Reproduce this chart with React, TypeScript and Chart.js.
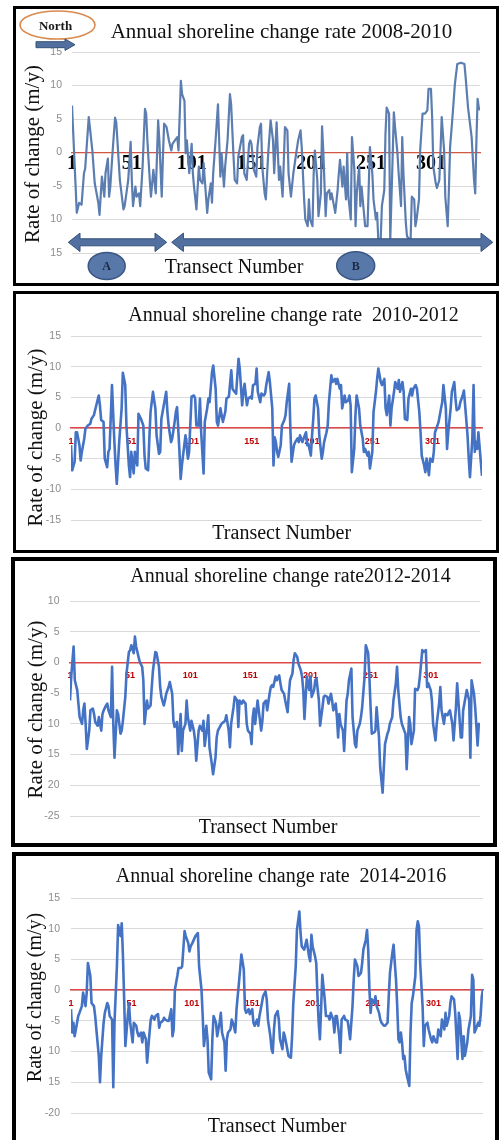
import React, { useEffect, useRef } from "react";
import { Chart, registerables } from "chart.js";

Chart.register(...registerables);

const SERIF = "'Liberation Serif', 'Times New Roman', serif";
const SANS = "'Liberation Sans', Arial, sans-serif";

const TRANSECT_TICKS = [1, 51, 101, 151, 201, 251, 301];
const TRANSECT_MIN = 1;
const TRANSECT_MAX = 342;
const Y_TITLE = "Rate of change (m/y)";
const X_TITLE = "Transect Number";

const TITLE_0810 = "Annual shoreline change rate 2008-2010";
const TITLE_1012 = "Annual shoreline change rate  2010-2012";
const TITLE_1214 = "Annual shoreline change rate2012-2014";
const TITLE_1416 = "Annual shoreline change rate  2014-2016";

// ---- 2008-2010 ----
const transects0810 = [
  1, 5, 7, 9, 11, 12, 15, 18, 20, 23,
  24, 26, 28, 29, 31, 32, 33, 35, 37, 38,
  41, 44, 45, 48, 50, 51, 52, 54, 55, 57,
  58, 60, 62, 63, 64, 66, 67, 69, 71, 73,
  74, 76, 77, 78, 80, 82, 84, 85, 87, 89,
  90, 92, 93, 95, 96, 97, 99, 101, 102, 103,
  105, 107, 108, 110, 111, 112, 114, 115, 117, 118,
  119, 121, 123, 125, 126, 128, 129, 131, 133, 134,
  136, 137, 139, 140, 143, 144, 145, 147, 149, 150,
  151, 153, 155, 156, 158, 159, 160, 162, 163, 165,
  167, 169, 170, 172, 174, 175, 177, 179, 181, 182,
  184, 186, 188, 190, 192, 193, 195, 196, 198, 199,
  200, 202, 203, 204, 206, 207, 209, 210, 211, 213,
  214, 216, 217, 218, 220, 221, 223, 224, 225, 227,
  228, 230, 231, 232, 234, 235, 237, 238, 239, 241,
  242, 243, 245, 246, 248, 249, 250, 252, 253, 255,
  256, 257, 259, 260, 262, 263, 264, 266, 267, 269,
  270, 271, 273, 274, 276, 277, 278, 280, 281, 283,
  284, 285, 287, 288, 289, 291, 292, 294, 296, 298,
  299, 301, 302, 303, 305, 306, 308, 309, 310, 312,
  313, 315, 316, 317, 319, 321, 323, 326, 329, 330,
  332, 334, 335, 337, 338, 339, 340, 341, 342,
];
const rates0810 = [
  7.0, -9.0, -7.5, -7.8, -3.1, -2.4, 5.3, 0.3, -4.6, -7.5,
  -9.3, -3.6, -6.6, -3.1, -0.9, -6.6, -5.1, 0.3, 5.2, 4.5,
  -4.1, -8.5, -8.0, -4.1, 1.6, -4.1, -8.0, -5.1, -6.6, -6.1,
  -8.0, -2.1, 6.5, 5.8, 1.8, -4.1, -6.6, -2.6, -6.1, 4.8,
  1.8, -6.6, -0.6, 4.3, 3.8, 1.8, 0.3, 1.3, 1.8, 2.3,
  0.3, 10.7, 8.7, 7.7, -0.1, 1.8, -3.1, 1.3, -3.1, -5.1,
  -8.5, -2.1, -4.1, -4.6, -1.6, -4.1, -9.0, -7.0, -4.6, -7.5,
  -3.1, 1.8, 7.2, -3.6, -0.1, -5.1, -2.1, 1.8, 8.7, 7.2,
  -0.6, -4.1, -4.6, -0.6, 2.3, 2.6, -3.1, -4.1, 1.3, 1.8,
  1.3, -2.6, -3.6, 0.8, 3.8, 4.3, -2.1, -6.1, -7.0, -0.1,
  4.8, 1.8, -3.1, 4.5, -4.1, -2.1, -6.6, 3.8, 3.3, -3.1,
  -6.6, -3.1, -0.6, 1.8, 3.3, 0.8, -7.0, -10.0, -11.0, -7.0,
  -10.0, -11.0, -3.1, 0.3, -4.1, -9.5, -6.1, 3.9, 0.3, -9.5,
  -6.1, -5.6, -7.0, -6.1, -8.0, -9.0, -5.6, -3.1, -1.1, -5.1,
  -2.1, -7.0, -0.1, -6.6, -10.0, 2.3, -2.6, -11.0, -6.1, -2.1,
  -8.0, -5.1, -9.0, -11.0, -11.0, -5.1, 0.8, -3.1, -7.0, -10.0,
  -9.0, -13.0, -13.0, -8.0, -5.6, 2.8, 6.7, 5.8, -13.0, -0.6,
  6.0, 3.8, -0.1, -3.1, -8.0, 2.3, -3.1, -10.5, -12.5, -13.0,
  -13.0, -6.6, -7.0, -11.0, -10.0, -7.0, 0.3, 5.8, 5.8, 6.3,
  9.5, 9.5, 5.3, -2.1, -4.6, -5.3, -4.1, 0.3, 5.3, 0.3,
  -6.6, -11.0, -5.6, 0.8, 5.3, 10.2, 13.2, 13.4, 13.2, 11.2,
  6.7, 3.8, 2.3, -4.1, -6.1, 1.8, 8.0, 6.7, 6.3,
];

// ---- 2010-2012 ----
const transects1012 = [
  1, 2, 4, 5, 6, 8, 9, 10, 12, 13,
  15, 17, 18, 20, 22, 24, 25, 26, 28, 29,
  31, 32, 33, 35, 37, 38, 39, 41, 43, 44,
  46, 47, 49, 50, 51, 53, 54, 56, 57, 59,
  61, 62, 63, 65, 66, 67, 69, 71, 72, 74,
  75, 76, 78, 80, 81, 82, 84, 85, 87, 88,
  89, 91, 92, 93, 95, 96, 98, 99, 101, 103,
  104, 105, 107, 108, 109, 111, 112, 114, 115, 116,
  118, 119, 121, 122, 123, 125, 126, 127, 129, 130,
  132, 134, 135, 136, 138, 140, 141, 143, 144, 145,
  147, 148, 150, 151, 152, 154, 155, 156, 158, 159,
  161, 162, 163, 165, 166, 168, 169, 170, 171, 172,
  173, 175, 176, 178, 179, 180, 182, 183, 184, 186,
  187, 189, 190, 191, 193, 194, 196, 197, 198, 200,
  201, 202, 203, 204, 206, 207, 209, 210, 211, 213,
  214, 215, 217, 218, 220, 221, 222, 224, 225, 226,
  228, 229, 231, 232, 233, 234, 236, 237, 238, 240,
  241, 243, 244, 245, 247, 248, 249, 251, 252, 254,
  255, 256, 258, 259, 261, 262, 263, 265, 266, 267,
  269, 270, 272, 273, 274, 276, 277, 278, 280, 281,
  283, 284, 285, 287, 288, 290, 291, 292, 294, 295,
  296, 298, 299, 301, 302, 303, 305, 306, 308, 309,
  310, 312, 313, 314, 316, 317, 319, 320, 321, 323,
  324, 326, 327, 328, 330, 331, 332, 334, 335, 336,
  337, 338, 339, 342,
];
const rates1012 = [
  -2.8, -6.9, -5.5, -0.7, -0.7, -2.8, -5.3, -3.9, -1.7, -0.1,
  0.4, 0.7, 1.5, 2.1, 3.7, 5.3, 3.7, 1.3, 1.0, -5.0,
  -6.4, -3.9, -3.4, 7.0, -2.3, -6.1, -9.1, -2.3, 3.2, 9.0,
  7.0, 0.4, -6.1, -8.0, -3.9, -7.4, -3.9, -6.1, 2.3, 1.5,
  0.4, -4.5, -6.6, -6.9, -1.7, 2.6, 5.9, 3.2, -1.2, -4.2,
  -3.9, 1.5, 3.7, 5.9, 2.6, 0.4, -2.3, -1.7, 1.0, 2.6,
  3.4, -3.9, -8.3, -6.1, -2.8, -1.2, -5.0, -3.9, 5.1, 5.3,
  4.8, 0.4, 0.4, 4.8, -0.7, -7.4, 1.0, 3.2, 4.8, 4.2,
  9.1, 10.2, 6.4, 1.0, 0.4, 3.2, 2.1, 1.0, 2.6, 4.8,
  5.1, 9.4, 6.4, 6.1, 5.6, 11.3, 9.7, 3.7, 5.9, 7.2,
  3.7, 4.8, 5.1, 4.8, 7.0, 7.2, 9.7, 5.9, 4.2, 5.6,
  5.3, 5.6, 7.0, 9.1, 7.5, 3.2, -6.1, -1.5, -2.3, -3.9,
  -4.7, -2.8, 0.4, 1.3, 2.1, 4.2, 7.2, -0.1, -5.5, -2.8,
  -2.3, -1.7, -2.3, -1.2, -2.3, -1.7, -0.7, -2.8, -2.6, -4.5,
  -1.2, 1.5, 4.8, 5.3, 3.2, -1.2, -5.0, -3.9, -2.3, -0.7,
  0.4, 4.2, 8.6, 7.5, 8.0, 7.2, 8.0, 6.4, 7.0, 3.2,
  5.3, 4.2, 4.5, 5.3, 3.7, -7.2, -3.4, 2.1, 5.3, 3.2,
  0.4, -1.7, -3.9, -3.4, -4.5, -3.9, -6.6, -3.9, 2.6, 5.9,
  8.0, 9.7, 7.5, 7.0, 8.0, 3.2, 2.1, 5.3, 0.4, 3.2,
  5.9, 7.5, 6.4, 7.8, 5.9, 7.5, 5.9, 1.5, 1.3, 4.8,
  6.4, 5.3, 6.4, 7.0, 6.4, 2.6, -0.7, -4.5, -6.1, -7.2,
  -5.0, -7.7, -5.0, -5.5, -3.9, -0.7, 0.4, 1.0, 3.2, 4.2,
  7.0, 3.2, -3.4, -0.7, 3.2, 5.9, 7.5, 4.8, 2.9, 3.2,
  4.2, 5.3, 6.1, 3.7, -1.2, -5.0, -8.0, -1.7, 7.0, -3.9,
  -2.3, -3.4, -0.7, -7.8,
];

// ---- 2012-2014 ----
const transects1214 = [
  1, 2, 4, 5, 7, 8, 9, 11, 12, 13,
  14, 15, 17, 18, 20, 21, 22, 24, 25, 27,
  28, 29, 31, 32, 33, 35, 36, 37, 38, 40,
  41, 43, 44, 45, 47, 48, 50, 51, 52, 54,
  55, 56, 58, 59, 61, 62, 63, 65, 66, 68,
  69, 70, 72, 73, 75, 76, 77, 79, 80, 81,
  83, 84, 86, 87, 88, 90, 91, 93, 94, 95,
  97, 98, 99, 101, 102, 104, 105, 106, 108, 109,
  111, 112, 113, 115, 116, 117, 119, 120, 122, 123,
  124, 127, 130, 131, 133, 134, 135, 137, 138, 140,
  141, 142, 144, 145, 147, 148, 149, 151, 152, 153,
  154, 155, 157, 158, 160, 161, 162, 164, 165, 167,
  168, 169, 170, 172, 173, 175, 176, 177, 179, 180,
  182, 183, 184, 186, 187, 188, 190, 191, 193, 194,
  195, 196, 197, 198, 200, 201, 202, 204, 205, 206,
  208, 209, 211, 212, 213, 215, 216, 218, 219, 220,
  222, 223, 224, 225, 226, 228, 229, 231, 232, 233,
  235, 236, 238, 239, 240, 242, 243, 244, 246, 247,
  249, 250, 251, 252, 254, 255, 256, 258, 259, 261,
  262, 263, 265, 266, 267, 269, 270, 272, 273, 274,
  276, 277, 279, 280, 281, 283, 284, 285, 287, 288,
  290, 291, 292, 294, 295, 297, 298, 299, 301, 302,
  303, 305, 306, 308, 309, 310, 312, 313, 315, 316,
  317, 319, 320, 322, 323, 324, 326, 327, 328, 330,
  331, 333, 334, 335, 337, 338, 340, 341, 342,
];
const rates1214 = [
  -6.2, -2.3, 2.6, -2.9, -4.5, -6.7, -8.9, -10.0, -7.8, -6.7,
  -10.0, -14.1, -11.1, -7.8, -7.5, -8.4, -9.7, -10.3, -8.9, -11.1,
  -8.4, -7.8, -7.0, -6.7, -7.8, -8.9, -0.7, -10.0, -15.5, -7.8,
  -8.4, -11.6, -11.1, -9.5, -5.6, -1.8, 1.7, 2.0, 2.8, 1.5,
  4.2, 2.6, 0.9, 0.1, -0.7, -2.9, -10.0, -6.2, -7.5, -7.0,
  -4.0, -1.3, 1.7, 1.5, -0.7, -4.0, -5.6, -7.0, -6.2, -5.1,
  -4.0, -3.2, -5.1, -9.5, -10.5, -9.7, -14.9, -8.4, -14.4, -11.1,
  -10.0, -6.2, -8.9, -11.1, -9.5, -11.1, -12.7, -16.0, -11.1, -10.3,
  -11.1, -9.5, -13.6, -10.5, -8.6, -13.8, -16.6, -18.2, -15.5, -12.2,
  -11.1, -10.0, -9.5, -8.6, -11.1, -13.8, -10.0, -7.3, -5.6, -6.2,
  -10.5, -6.2, -6.7, -6.2, -6.7, -10.0, -11.1, -11.6, -13.3, -8.9,
  -7.5, -10.0, -6.2, -7.8, -11.1, -9.5, -6.7, -6.2, -7.8, -5.1,
  -4.0, -3.7, -4.0, -2.3, -2.9, -2.1, -3.4, -4.5, -5.1, -6.2,
  -8.1, -5.1, -2.9, -1.8, 0.4, 1.5, 0.9, -0.2, -1.3, -2.3,
  -4.5, -9.2, -5.6, -2.3, -4.5, -2.3, -5.6, -4.5, -2.9, -2.6,
  -6.2, -10.3, -7.3, -5.6, -5.4, -5.6, -6.7, -5.1, -6.2, -7.8,
  -6.7, -8.9, -12.2, -8.4, -10.0, -11.1, -14.4, -6.2, -5.1, -2.9,
  -1.0, -8.9, -13.3, -13.8, -11.1, -10.0, -8.9, -7.3, -2.3, 2.8,
  1.5, -2.3, -7.3, -11.6, -11.4, -11.1, -7.3, -12.2, -17.1, -21.2,
  -17.1, -13.3, -11.6, -11.1, -10.0, -8.9, -6.2, -3.4, -0.7, -4.5,
  -8.9, -10.0, -11.1, -11.6, -17.4, -8.9, -10.0, -13.3, -11.1, -4.3,
  -4.5, -4.0, -2.3, 2.0, 1.7, 2.0, -4.0, -3.4, -4.5, -6.2,
  -10.0, -12.7, -10.0, -6.7, -4.0, -7.8, -10.0, -8.4, -8.6, -8.1,
  -7.8, -10.0, -12.7, -7.3, -3.4, -6.2, -12.2, -12.2, -7.8, -5.6,
  -4.5, -6.2, -15.5, -2.9, -5.1, -7.3, -13.5, -10.0, -10.2,
];

// ---- 2014-2016 ----
const transects1416 = [
  1, 2, 3, 4, 6, 7, 8, 10, 11, 13,
  14, 15, 17, 18, 20, 21, 22, 24, 25, 26,
  28, 29, 31, 32, 33, 35, 36, 37, 39, 40,
  42, 43, 44, 45, 46, 48, 49, 50, 52, 53,
  55, 56, 57, 59, 60, 61, 63, 64, 66, 67,
  68, 70, 71, 73, 74, 75, 77, 78, 79, 81,
  82, 84, 85, 86, 87, 89, 90, 92, 93, 95,
  96, 98, 99, 100, 102, 104, 106, 107, 109, 110,
  111, 113, 114, 115, 117, 118, 119, 121, 122, 124,
  125, 126, 128, 129, 130, 131, 133, 134, 135, 137,
  138, 140, 141, 142, 144, 145, 146, 148, 149, 151,
  152, 153, 155, 156, 157, 159, 160, 162, 163, 164,
  166, 167, 168, 169, 170, 172, 173, 174, 176, 177,
  178, 180, 181, 183, 184, 185, 187, 188, 190, 191,
  192, 194, 195, 196, 198, 199, 200, 201, 203, 204,
  205, 206, 207, 208, 209, 211, 212, 214, 215, 216,
  218, 219, 220, 221, 223, 224, 225, 227, 228, 230,
  231, 232, 234, 235, 236, 238, 239, 241, 242, 243,
  245, 246, 247, 248, 249, 250, 252, 253, 254, 256,
  257, 258, 260, 261, 263, 264, 265, 267, 268, 269,
  270, 271, 272, 273, 274, 275, 276, 277, 278, 279,
  281, 282, 283, 284, 286, 287, 288, 289, 290, 292,
  293, 294, 296, 297, 299, 300, 301, 303, 304, 305,
  307, 308, 310, 311, 312, 314, 315, 316, 318, 319,
  321, 322, 323, 325, 326, 327, 329, 330, 332, 333,
  334, 335, 336, 338, 339, 340, 341, 342,
];
const rates1416 = [
  -3.1, -6.9, -5.3, -7.5, -5.3, -4.2, -3.7, -2.6, -0.4, -2.6,
  -0.4, 4.4, 2.3, -2.1, -2.6, -4.2, -6.4, -10.7, -15.0, -10.7,
  -5.3, -3.7, -2.1, -2.6, -4.2, -4.8, -15.8, -5.3, 3.9, 10.6,
  8.8, 10.9, 5.5, -1.5, -9.1, -4.2, -2.1, -5.3, -8.5, -5.3,
  -5.8, -6.9, -7.5, -6.9, -8.5, -6.9, -8.0, -11.8, -6.9, -4.8,
  -4.2, -4.8, -4.2, -3.9, -6.1, -5.3, -5.0, -4.5, -4.8, -5.0,
  -5.0, -3.1, -7.5, -6.4, 0.1, 2.3, 3.6, 3.6, 3.9, 9.6,
  8.8, 7.7, 6.3, 7.1, 7.9, 8.8, 9.3, 3.9, 0.1, -4.2,
  -9.1, -5.8, -8.0, -13.4, -14.5, -8.0, -4.2, -5.3, -7.5, -5.3,
  -3.7, -6.9, -8.5, -13.1, -8.0, -6.9, -6.4, -4.8, -5.3, -6.9,
  -3.1, 1.2, 3.4, 5.8, 3.4, -3.1, -3.7, -3.1, -3.9, -3.1,
  -5.3, -5.8, -4.8, -5.8, -4.2, -2.1, -1.0, -0.2, -1.5, -4.8,
  -7.5, -9.6, -10.2, -6.4, -4.2, -3.4, -4.8, -8.0, -9.6, -6.9,
  -7.5, -9.6, -10.7, -11.0, -7.5, -2.1, 3.9, 9.8, 12.8, 9.3,
  7.1, 6.6, 7.4, 8.2, 5.5, 4.7, 9.0, 7.1, 5.5, 4.4,
  -1.0, -5.3, -8.0, -3.1, 2.5, -1.5, -4.2, -4.2, -4.8, -3.7,
  -4.8, -6.9, -4.2, -4.2, -7.5, -10.2, -4.8, -4.2, -4.8, -5.0,
  -6.4, -8.0, -2.6, 1.7, 5.0, 3.9, 2.3, 2.8, 4.4, 6.6,
  8.2, 9.8, 6.6, 0.1, -3.7, -1.5, -2.1, -1.0, -2.6, -3.7,
  -4.8, -5.3, -5.8, -5.8, -5.3, -1.0, 2.8, 6.1, 7.4, 4.4,
  1.7, -2.6, -8.0, -8.5, -6.9, -8.5, -11.2, -10.7, -12.9, -13.9,
  -15.6, -6.9, -2.1, -1.0, 2.3, 9.8, 11.2, 10.4, 4.4, -2.6,
  -9.1, -5.8, -5.3, -6.4, -8.0, -8.5, -7.5, -8.5, -8.5, -6.4,
  -7.5, -4.8, -6.4, -3.7, -5.8, -4.2, -2.1, -1.0, -1.5, -3.7,
  -11.2, -3.7, -4.8, -11.2, -7.5, -10.7, -8.5, -6.4, -4.2, 2.5,
  1.7, -6.9, -6.4, -5.3, -5.8, -4.2, -1.0, 0.1,
];

// ---- y-axis tick labels, as printed in each panel ----
const yTicks0810 = [15, 10, 5, 0, -5, -10, -15];
const yTickLabels0810 = ["15", "10", "5", "0", "-5", "10", "15"];
const yTicks1012 = [15, 10, 5, 0, -5, -10, -15];
const yTickLabels1012 = ["15", "10", "5", "0", "-5", "-10", "-15"];
const yTicks1214 = [10, 5, 0, -5, -10, -15, -20, -25];
const yTickLabels1214 = ["10", "5", "0", "-5", "10", "15", "20", "-25"];
const yTicks1416 = [15, 10, 5, 0, -5, -10, -15, -20];
const yTickLabels1416 = ["15", "10", "5", "0", "-5", "10", "15", "-20"];

const RED_TICK = { color: "#c00000", font: { family: SANS, size: 9, weight: "bold", lineHeight: 1 }, padding: 9, z: 0 };

const PANELS = [
  {
    id: "p0810",
    frame: { left: 13, top: 6, width: 486, height: 280, border: 3 },
    pad: { right: 16, top: 43, bottom: 30 },
    axisWidth: 56, tickPad: 10,
    yMin: -15, yMax: 15, yTicks: yTicks0810, yLabels: yTickLabels0810,
    transects: transects0810, rates: rates0810,
    line: { color: "#5b7db0", width: 2.2 },
    zero: { color: "#d0563f", width: 1.2 },
    xTick: { color: "#000000", font: { family: SERIF, size: 20, weight: "bold", lineHeight: 1 }, padding: 1, z: 1 },
    title: { text: TITLE_0810, x: 265.5, y: 28.5, size: 21 },
    yTitle: { x: 23, y: 145, size: 21 },
    xTitle: { x: 218, y: 264, size: 20 },
    decorated: true,
  },
  {
    id: "p1012",
    frame: { left: 13, top: 291, width: 486, height: 262, border: 3 },
    pad: { right: 14, top: 42, bottom: 30 },
    axisWidth: 55, tickPad: 10,
    yMin: -15, yMax: 15, yTicks: yTicks1012, yLabels: yTickLabels1012,
    transects: transects1012, rates: rates1012,
    line: { color: "#4472c4", width: 2.6 },
    zero: { color: "#e04848", width: 1.5 },
    xTick: RED_TICK,
    title: { text: TITLE_1012, x: 277.5, y: 27, size: 20 },
    yTitle: { x: 26, y: 143.5, size: 21 },
    xTitle: { x: 265.7, y: 245.3, size: 20 },
    decorated: false,
  },
  {
    id: "p1214",
    frame: { left: 11, top: 557, width: 486, height: 290, border: 4 },
    pad: { right: 13, top: 40, bottom: 27 },
    axisWidth: 55, tickPad: 10.5,
    yMin: -25, yMax: 10, yTicks: yTicks1214, yLabels: yTickLabels1214,
    transects: transects1214, rates: rates1214,
    line: { color: "#4472c4", width: 2.6 },
    zero: { color: "#e04848", width: 1.5 },
    xTick: RED_TICK,
    title: { text: TITLE_1214, x: 275.5, y: 21.3, size: 20 },
    yTitle: { x: 27.2, y: 148.5, size: 21 },
    xTitle: { x: 253, y: 272.3, size: 20 },
    decorated: false,
  },
  {
    id: "p1416",
    frame: { left: 12, top: 852, width: 487, height: 298, border: 4 },
    pad: { right: 12, top: 42, bottom: 33 },
    axisWidth: 55, tickPad: 11,
    yMin: -20, yMax: 15, yTicks: yTicks1416, yLabels: yTickLabels1416,
    transects: transects1416, rates: rates1416,
    line: { color: "#4472c4", width: 2.6 },
    zero: { color: "#e04848", width: 1.5 },
    xTick: RED_TICK,
    title: { text: TITLE_1416, x: 265, y: 25.7, size: 20 },
    yTitle: { x: 24.6, y: 141.5, size: 20 },
    xTitle: { x: 261, y: 275.7, size: 20 },
    decorated: false,
  },
];

function blockArrow(ctx, x1, x2, y, shaftHalf, headHalf, headLen, double) {
  ctx.beginPath();
  if (double) {
    ctx.moveTo(x1, y);
    ctx.lineTo(x1 + headLen, y - headHalf);
    ctx.lineTo(x1 + headLen, y - shaftHalf);
    ctx.lineTo(x2 - headLen, y - shaftHalf);
    ctx.lineTo(x2 - headLen, y - headHalf);
    ctx.lineTo(x2, y);
    ctx.lineTo(x2 - headLen, y + headHalf);
    ctx.lineTo(x2 - headLen, y + shaftHalf);
    ctx.lineTo(x1 + headLen, y + shaftHalf);
    ctx.lineTo(x1 + headLen, y + headHalf);
  } else {
    ctx.moveTo(x1, y - shaftHalf);
    ctx.lineTo(x2 - headLen, y - shaftHalf);
    ctx.lineTo(x2 - headLen, y - headHalf);
    ctx.lineTo(x2, y);
    ctx.lineTo(x2 - headLen, y + headHalf);
    ctx.lineTo(x2 - headLen, y + shaftHalf);
    ctx.lineTo(x1, y + shaftHalf);
  }
  ctx.closePath();
  ctx.fill();
  ctx.stroke();
}

function drawDecorations(ctx) {
  // "North" label in an orange ellipse with an arrow below it
  ctx.beginPath();
  ctx.ellipse(41.5, 16, 37.5, 14, 0, 0, Math.PI * 2);
  ctx.fillStyle = "#ffffff";
  ctx.fill();
  ctx.lineWidth = 1.6;
  ctx.strokeStyle = "#d98a4e";
  ctx.stroke();
  ctx.fillStyle = "#1a1a1a";
  ctx.font = `bold 13px ${SERIF}`;
  ctx.textAlign = "center";
  ctx.textBaseline = "alphabetic";
  ctx.fillText("North", 39.5, 21);

  ctx.fillStyle = "#52709f";
  ctx.strokeStyle = "#34507c";
  ctx.lineWidth = 1;
  blockArrow(ctx, 20, 59, 35.7, 3, 5.7, 10, false);

  // zone arrows A and B
  blockArrow(ctx, 52.3, 150.7, 233.3, 3.5, 9.2, 11.7, true);
  blockArrow(ctx, 155.7, 476.7, 233.3, 3.5, 9.2, 11.7, true);

  const circles = [
    { label: "A", x: 90.7, y: 257, rx: 18.5, ry: 13.5 },
    { label: "B", x: 339.7, y: 256.7, rx: 19, ry: 14 },
  ];
  circles.forEach((c) => {
    ctx.beginPath();
    ctx.ellipse(c.x, c.y, c.rx, c.ry, 0, 0, Math.PI * 2);
    ctx.fillStyle = "#5878aa";
    ctx.fill();
    ctx.lineWidth = 1.5;
    ctx.strokeStyle = "#3a5683";
    ctx.stroke();
    ctx.fillStyle = "#1c2a44";
    ctx.font = `bold 12px ${SERIF}`;
    ctx.textAlign = "center";
    ctx.textBaseline = "middle";
    ctx.fillText(c.label, c.x, c.y + 1);
  });
}

function overlayPlugin(p) {
  return {
    id: "overlay_" + p.id,
    afterDraw(chart) {
      const ctx = chart.ctx;
      ctx.save();
      ctx.fillStyle = "#111111";
      ctx.textAlign = "center";
      ctx.textBaseline = "alphabetic";
      ctx.font = `${p.title.size}px ${SERIF}`;
      ctx.fillText(p.title.text, p.title.x, p.title.y);
      ctx.font = `${p.xTitle.size}px ${SERIF}`;
      ctx.fillText(X_TITLE, p.xTitle.x, p.xTitle.y);
      ctx.save();
      ctx.translate(p.yTitle.x, p.yTitle.y);
      ctx.rotate(-Math.PI / 2);
      ctx.font = `${p.yTitle.size}px ${SERIF}`;
      ctx.fillText(Y_TITLE, 0, 0);
      ctx.restore();
      if (p.decorated) drawDecorations(ctx);
      ctx.restore();
    },
  };
}

function buildConfig(p) {
  const n = Math.min(p.transects.length, p.rates.length);
  const points = [];
  for (let i = 0; i < n; i++) points.push({ x: p.transects[i], y: p.rates[i] });
  return {
    type: "line",
    data: {
      datasets: [
        {
          data: points,
          borderColor: p.line.color,
          borderWidth: p.line.width,
          borderJoinStyle: "round",
          pointRadius: 0,
          tension: 0,
          fill: false,
        },
      ],
    },
    options: {
      responsive: false,
      animation: false,
      events: [],
      layout: { padding: { left: 0, right: p.pad.right, top: p.pad.top, bottom: p.pad.bottom } },
      plugins: { legend: { display: false }, tooltip: { enabled: false }, title: { display: false } },
      scales: {
        x: {
          type: "linear",
          min: TRANSECT_MIN,
          max: TRANSECT_MAX,
          position: { y: 0 },
          z: p.xTick.z,
          grid: { display: false, drawTicks: false },
          border: { display: true, color: p.zero.color, width: p.zero.width },
          afterBuildTicks: (axis) => {
            axis.ticks = TRANSECT_TICKS.map((v) => ({ value: v }));
          },
          ticks: {
            autoSkip: false,
            maxRotation: 0,
            minRotation: 0,
            color: p.xTick.color,
            font: p.xTick.font,
            padding: p.xTick.padding,
            callback: (v) => String(v),
          },
        },
        y: {
          min: p.yMin,
          max: p.yMax,
          afterFit: (scale) => {
            scale.width = p.axisWidth;
          },
          grid: { color: "#d9d9d9", lineWidth: 1, drawTicks: false },
          border: { display: false },
          ticks: {
            stepSize: 5,
            color: "#8c8c8c",
            font: { family: SANS, size: 10.5 },
            padding: p.tickPad,
            callback: (v) => {
              const i = p.yTicks.indexOf(Number(v));
              return i >= 0 ? p.yLabels[i] : "";
            },
          },
        },
      },
    },
    plugins: [overlayPlugin(p)],
  };
}

function Panel({ p }) {
  const ref = useRef(null);
  const w = p.frame.width - 2 * p.frame.border;
  const h = p.frame.height - 2 * p.frame.border;
  useEffect(() => {
    const chart = new Chart(ref.current, buildConfig(p));
    return () => chart.destroy();
  }, []);
  return (
    <div
      style={{
        position: "absolute",
        left: p.frame.left,
        top: p.frame.top,
        width: p.frame.width,
        height: p.frame.height,
        border: `${p.frame.border}px solid #000`,
        boxSizing: "border-box",
        background: "#fff",
      }}
    >
      <canvas ref={ref} width={w} height={h} style={{ display: "block", width: w, height: h }} />
    </div>
  );
}

export default function App() {
  return (
    <div
      style={{
        position: "absolute",
        left: 0,
        top: 0,
        width: 499,
        height: 1140,
        overflow: "hidden",
        background: "#fff",
      }}
    >
      {PANELS.map((p) => (
        <Panel key={p.id} p={p} />
      ))}
    </div>
  );
}
